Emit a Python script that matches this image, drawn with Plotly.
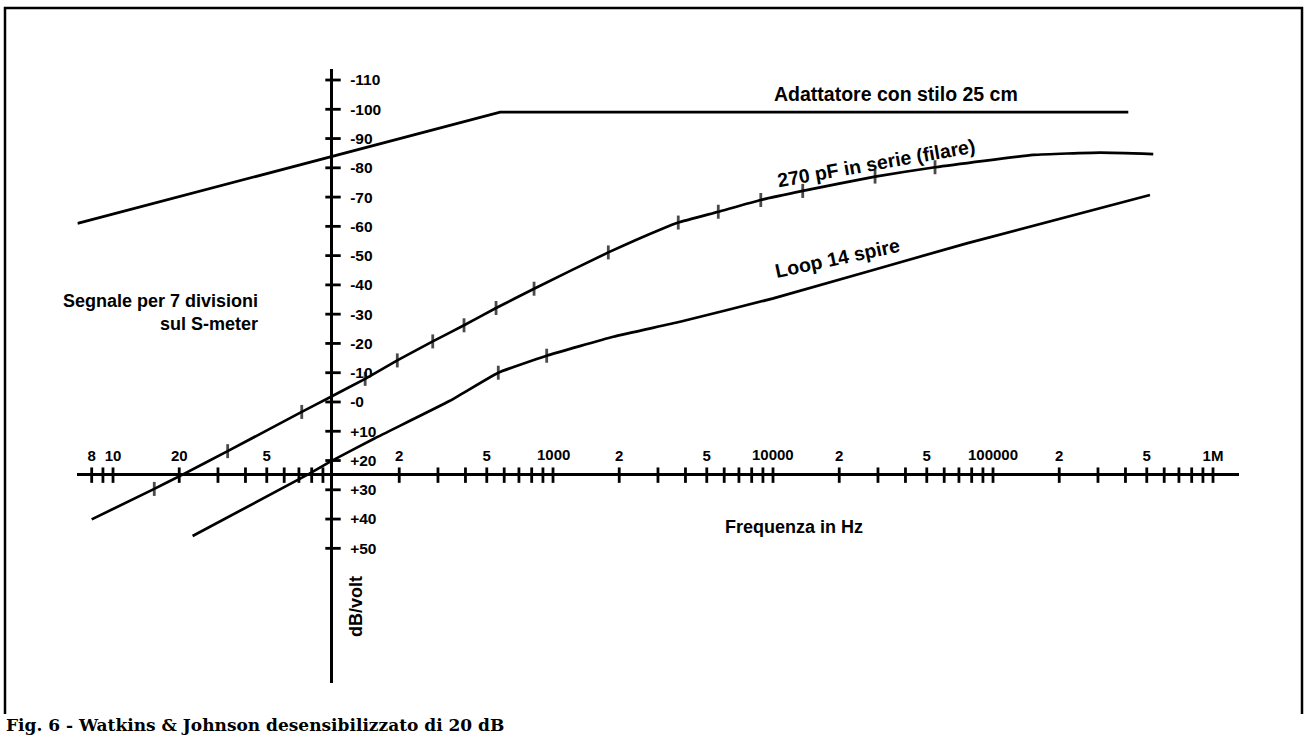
import plotly.graph_objects as go

W, H = 1307, 738
FONT = "Liberation Sans, Arial, sans-serif"
SERIF = "DejaVu Serif, Liberation Serif, serif"

# ---------------- data ----------------
adapter_freq = [6.9, 575, 412000]
adapter_db = [-61, -99, -99]

pf270_freq = [8.0, 15.4, 20.5, 33.2, 72.1, 97.9, 140, 196, 284, 394, 551, 820,
              1784, 3160, 3710, 5640, 8800, 13650, 29100, 54500, 152500, 306500, 535000]
pf270_db = [40.1, 29.7, 25.0, 16.8, 3.4, -1.8, -7.9, -14.2, -20.7, -26.2, -32.1, -38.7,
            -51.1, -59.3, -61.3, -65.0, -69.0, -72.1, -77.0, -80.2, -84.4, -85.2, -84.7]
pf270_tick = [0, 1, 0, 1, 1, 0, 1, 1, 1, 1, 1, 1,
              1, 0, 1, 1, 1, 1, 1, 1, 0, 0, 0]

loop_freq = [23.0, 75.9, 98.6, 155, 340, 564, 936, 1880, 3780, 10030, 75950, 517000]
loop_db = [45.8, 25.0, 20.1, 12.4, -0.4, -10.0, -15.8, -22.3, -27.4, -35.4, -54.2, -70.7]
loop_tick = [0, 0, 0, 0, 0, 1, 1, 0, 0, 0, 0, 0]

x_minor_ticks = [8, 9, 10, 20, 30, 40, 50, 60, 70, 80, 90,
                 200, 300, 400, 500, 600, 700, 800, 900, 1000,
                 2000, 3000, 4000, 5000, 6000, 7000, 8000, 9000, 10000,
                 20000, 30000, 40000, 50000, 60000, 70000, 80000, 90000, 100000,
                 200000, 300000, 400000, 500000, 600000, 700000, 800000, 900000, 1000000]
x_label_vals = [8, 10, 20, 50, 200, 500, 2000, 5000, 20000, 50000, 200000, 500000, 1000000]
x_label_text = ["8", "10", "20", "5", "2", "5", "2", "5", "2", "5", "2", "5", "1M"]
x_decade_vals = [1000, 10000, 100000]
x_decade_text = ["1000", "10000", "100000"]

y_tick_vals = [-110, -100, -90, -80, -70, -60, -50, -40, -30, -20, -10, 0, 10, 20, 30, 40, 50]
y_tick_text = ["-110", "-100", "-90", "-80", "-70", "-60", "-50", "-40", "-30", "-20",
               "-10", "-0", "+10", "+20", "+30", "+40", "+50"]

freq_axis_level_db = 25      # dB level where the frequency axis is drawn
db_axis_freq = 100           # frequency where the dB axis is drawn

# ---------------- figure ----------------
def px(x):
    return x / W


def py(y):
    return 1 - y / H


BLACK = "black"
fig = go.Figure()

fig.add_trace(go.Scatter(x=adapter_freq, y=adapter_db, mode="lines",
                         line=dict(color=BLACK, width=2.7), hoverinfo="skip"))
fig.add_trace(go.Scatter(x=pf270_freq, y=pf270_db, mode="lines+markers",
                         line=dict(color=BLACK, width=2.7, shape="spline", smoothing=0.4),
                         marker=dict(symbol="line-ns", size=[10 if t else 0 for t in pf270_tick],
                                     color=BLACK, line=dict(color=BLACK, width=2.8)),
                         hoverinfo="skip"))
fig.add_trace(go.Scatter(x=loop_freq, y=loop_db, mode="lines+markers",
                         line=dict(color=BLACK, width=2.7, shape="spline", smoothing=0.4),
                         marker=dict(symbol="line-ns", size=[10 if t else 0 for t in loop_tick],
                                     color=BLACK, line=dict(color=BLACK, width=2.8)),
                         hoverinfo="skip"))

# crossing tick marks on both axes
fig.add_trace(go.Scatter(x=x_minor_ticks, y=[freq_axis_level_db] * len(x_minor_ticks),
                         mode="markers", cliponaxis=False, hoverinfo="skip",
                         marker=dict(symbol="line-ns", size=11, color=BLACK,
                                     line=dict(color=BLACK, width=2.8))))
fig.add_trace(go.Scatter(x=[db_axis_freq] * len(y_tick_vals), y=y_tick_vals,
                         mode="markers", cliponaxis=False, hoverinfo="skip",
                         marker=dict(symbol="line-ew", size=11, color=BLACK,
                                     line=dict(color=BLACK, width=2.8))))

fig.update_layout(
    width=W, height=H,
    margin=dict(l=0, r=0, t=0, b=0),
    paper_bgcolor="white", plot_bgcolor="white",
    showlegend=False,
    xaxis=dict(type="log", range=[0.8377, 6.1195],
               domain=[px(77.3), px(1239.3)],
               anchor="free", position=py(474.3), side="top",
               showline=True, linecolor=BLACK, linewidth=2.8,
               showgrid=False, zeroline=False, ticks="",
               tickmode="array", tickvals=x_label_vals, ticktext=x_label_text,
               tickfont=dict(family=FONT, size=15, color=BLACK, weight="bold"),
               ticklabelstandoff=6, fixedrange=True),
    yaxis=dict(range=[96.01, -113.76],
               domain=[py(683), py(69)],
               anchor="free", position=px(331.3), side="right",
               showline=True, linecolor=BLACK, linewidth=2.8,
               showgrid=False, zeroline=False, ticks="",
               tickmode="array", tickvals=y_tick_vals, ticktext=y_tick_text,
               tickfont=dict(family=FONT, size=15.5, color=BLACK, weight="bold"),
               ticklabelstandoff=14, fixedrange=True),
)

lab = dict(family=FONT, color=BLACK, weight="bold")
ann = []
for v, t in zip(x_decade_vals, x_decade_text):
    ann.append(dict(x=len(str(v)) - 1, y=freq_axis_level_db, xref="x", yref="y",
                    text=t, yanchor="bottom", yshift=10,
                    font=dict(lab, size=15)))
ann += [
    dict(x=px(895.5), y=py(94), text="Adattatore con stilo 25 cm", font=dict(lab, size=19.5)),
    dict(x=px(876), y=py(163), text="270 pF in serie (filare)", textangle=-10, font=dict(lab, size=19.5)),
    dict(x=px(837), y=py(258), text="Loop 14 spire", textangle=-12, font=dict(lab, size=19.5)),
    dict(x=px(260), y=py(312.5), xanchor="right", align="right",
         text="Segnale per 7 divisioni<br>sul S-meter", font=dict(lab, size=18)),
    dict(x=px(794), y=py(527), text="Frequenza in Hz", font=dict(lab, size=18)),
    dict(x=px(356), y=py(607), text="dB/volt", textangle=-90, font=dict(lab, size=18)),
    dict(x=px(4), y=py(737), xanchor="left", yanchor="bottom",
         text="Fig. 6 - Watkins & Johnson desensibilizzato di 20 dB",
         font=dict(family=SERIF, size=17, color=BLACK, weight="bold")),
]
for a in ann:
    a.setdefault("xref", "paper")
    a.setdefault("yref", "paper")
    a.setdefault("xanchor", "center")
    a.setdefault("yanchor", "middle")
    a["showarrow"] = False
fig.update_layout(annotations=ann)

# frame (open at the bottom, where the caption sits)
fig.add_shape(type="path", xref="paper", yref="paper",
              path=f"M {px(5)},{py(714)} L {px(5)},{py(8)} L {px(1302)},{py(8)} L {px(1302)},{py(714)}",
              line=dict(color=BLACK, width=2.5))

fig.write_html("out.html", config={"displayModeBar": False, "staticPlot": True},
               post_script="document.body.style.margin='0';document.body.style.overflow='hidden';")
